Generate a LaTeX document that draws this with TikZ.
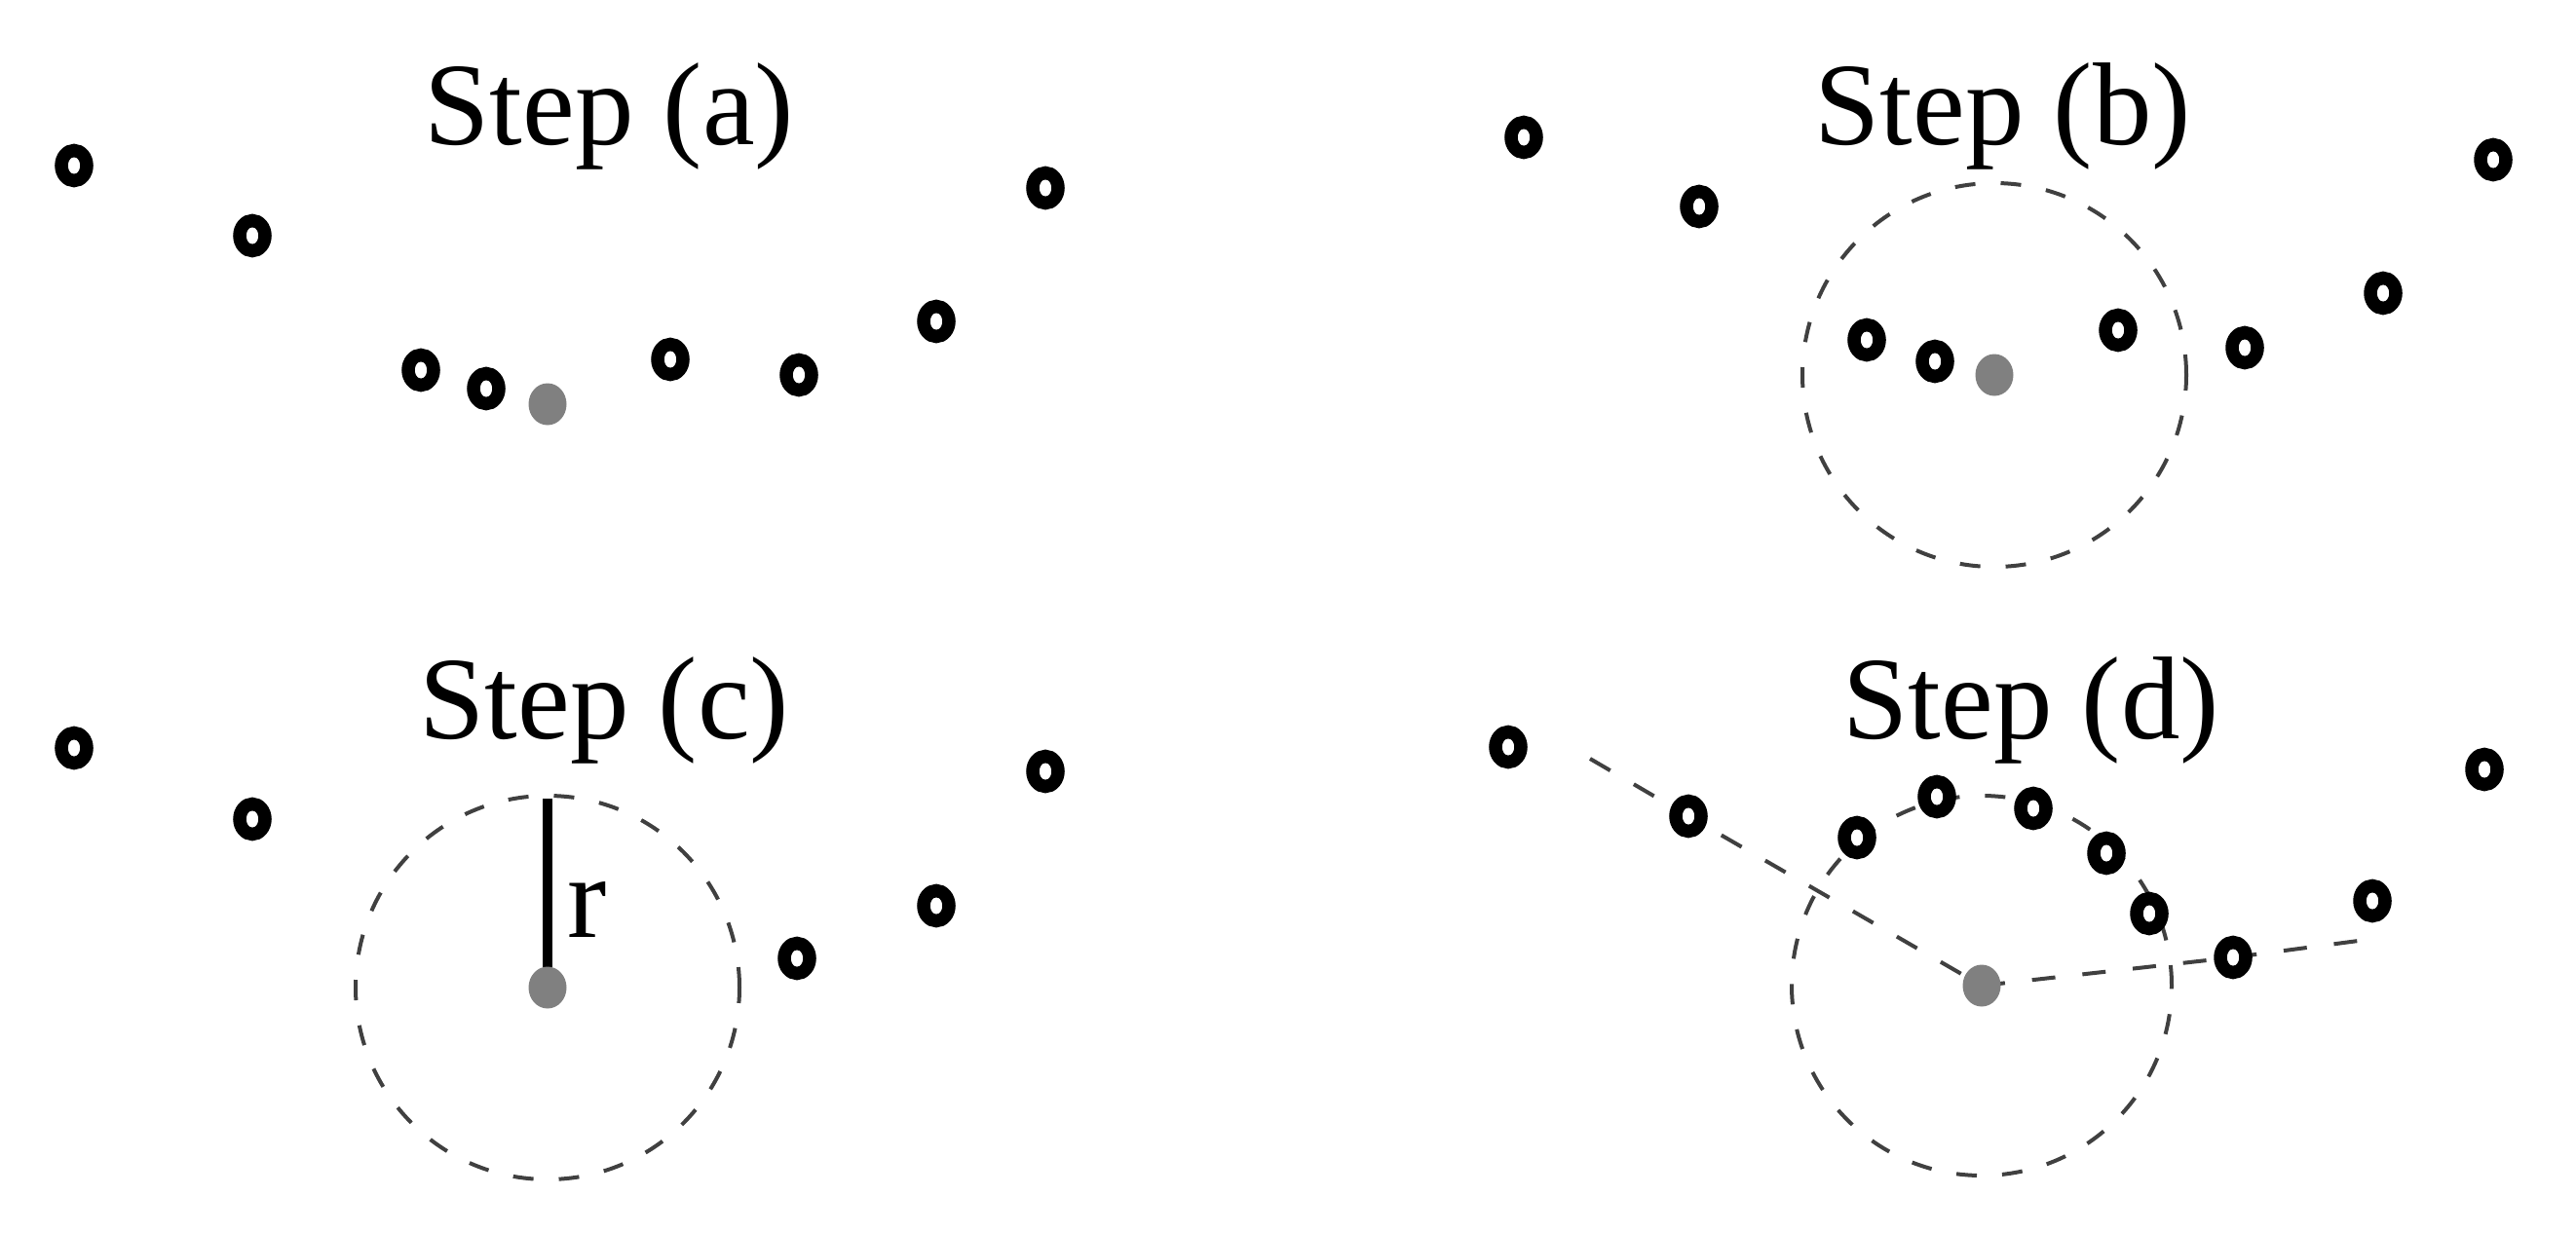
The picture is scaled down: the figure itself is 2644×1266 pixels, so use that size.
\documentclass[tikz,border=0pt]{standalone}
\usepackage{fontspec}
\setmainfont{Liberation Serif}
\usetikzlibrary{shapes.geometric}
\pgfdeclarelayer{bg}
\pgfsetlayers{bg,main}
\tikzset{
  ring/.style={ellipse, draw=black, fill=white, line width=1.35mm, inner sep=0pt,
    minimum width=2.6mm, minimum height=3.1mm},
  gdot/.style={ellipse, fill={rgb,255:red,128;green,128;blue,128}, inner sep=0pt,
    minimum width=3.9mm, minimum height=4.3mm},
  title/.style={anchor=base west, inner sep=0pt, font=\fontsize{34.4}{40}\selectfont},
  dcirc/.style={draw=black!75, line width=0.4mm, dash pattern=on 2.1mm off 2.6mm},
  dline/.style={draw=black!75, line width=0.4mm, dash pattern=on 2.4mm off 2.8mm},
  rline/.style={draw=black, line width=1.0mm}
}
\begin{document}
\begin{tikzpicture}[x=0.1mm,y=-0.1mm]
\useasboundingbox (0,0) rectangle (2644,1266);
% ---------- Step (a)
\node[title] (ta) at (435,148) {Step (a)};
\node[ring] (a1) at (76,170) {};
\node[ring] (a2) at (259,242) {};
\node[ring] (a3) at (1073,193) {};
\node[ring] (a4) at (961,330) {};
\node[ring] (a5) at (432,380) {};
\node[ring] (a6) at (499,399) {};
\node[ring] (a7) at (688,369) {};
\node[ring] (a8) at (820,385) {};
\node[gdot] (ga) at (562,415) {};
% ---------- Step (b)
\node[title] (tb) at (1862,148) {Step (b)};
\node[ring] (b1) at (1564,141) {};
\node[ring] (b2) at (1744,212) {};
\node[ring] (b3) at (2559,164) {};
\node[ring] (b4) at (2446,301) {};
\node[ring] (b5) at (1916,349) {};
\node[ring] (b6) at (1986,371) {};
\node[ring] (b7) at (2174,339) {};
\node[ring] (b8) at (2304,357) {};
\node[gdot] (gb) at (2047,385) {};
% ---------- Step (c)
\node[title] (tc) at (430,758) {Step (c)};
\node[ring] (c1) at (76,768) {};
\node[ring] (c2) at (259,841) {};
\node[ring] (c3) at (1073,792) {};
\node[ring] (c4) at (961,930) {};
\node[ring] (c5) at (818,984) {};
\node[gdot] (gc) at (562,1014) {};
\coordinate (ctop) at (562,820);
\node[title] (rl) at (582,962) {r};
% ---------- Step (d)
\node[title] (td) at (1891,758) {Step (d)};
\node[ring] (d1) at (1548,767) {};
\node[ring] (d2) at (2550,790) {};
\node[ring] (d3) at (1733,838) {};
\node[ring] (d4) at (1906,860) {};
\node[ring] (d5) at (1988,818) {};
\node[ring] (d6) at (2087,830) {};
\node[ring] (d7) at (2162,876) {};
\node[ring] (d8) at (2206,938) {};
\node[ring] (d9) at (2292,983) {};
\node[ring] (d10) at (2435,925) {};
\node[gdot] (gd) at (2034,1012) {};
\coordinate (dstart) at (1632,779);
\coordinate (dend) at (2428,965);
% ---------- background lines
\begin{pgfonlayer}{bg}
\draw[dcirc] (gb.center) circle[radius=19.7mm];
\draw[dcirc] (gc.center) circle[radius=19.7mm];
\draw[dcirc] (gd.center) circle[radius=19.5mm];
\draw[rline] (gc.center) -- (ctop);
\draw[dline] (dstart) -- (d3.center) -- (gd.center);
\draw[dline] (gd.center) -- (d9.center) -- (dend);
\end{pgfonlayer}
\end{tikzpicture}
\end{document}
